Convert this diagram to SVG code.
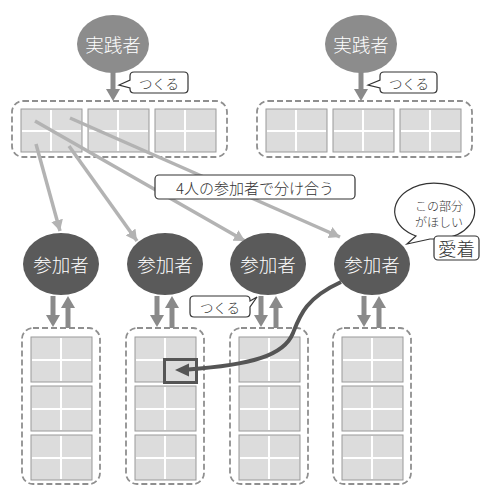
<svg xmlns="http://www.w3.org/2000/svg" width="483" height="487" viewBox="0 0 483 487">
  <style>
    .jp { font-family: "Noto Sans CJK JP", "Noto Sans", sans-serif; font-weight: 300; }
    .prac { fill: #8c8c8c; }
    .part { fill: #5a5a5a; }
    .nodeText { fill: #ffffff; font-size: 18.5px; text-anchor: middle; dominant-baseline: central; }
    .dash { fill: none; stroke: #8f8f8f; stroke-width: 1.8; stroke-dasharray: 6 3; }
    .cell { fill: #dcdcdc; stroke: #9a9a9a; stroke-width: 1; }
    .div { stroke: #ffffff; stroke-width: 2; }
    .flow { stroke: #8a8a8a; stroke-width: 5; fill: none; }
    .flowHead { fill: #8a8a8a; }
    .share { stroke: #b3b3b3; stroke-width: 3.5; fill: none; marker-end: url(#lightHead); }
    .callout { fill: #ffffff; stroke: #333333; stroke-width: 1.2; }
    .label { fill: #333333; text-anchor: middle; dominant-baseline: central; }
  </style>
  <defs>
    <marker id="lightHead" markerUnits="userSpaceOnUse" markerWidth="14" markerHeight="14" refX="11" refY="6" orient="auto">
      <path d="M0,0 L11,6 L0,12 Z" fill="#b3b3b3"/>
    </marker>
    <!-- 2x2 block of cells -->
    <g id="block">
      <rect class="cell" x="0" y="0" width="61" height="43"/>
      <line class="div" x1="30" y1="1" x2="30" y2="42"/>
      <line class="div" x1="1" y1="22" x2="60" y2="22"/>
    </g>
    <g id="blockTall">
      <rect class="cell" x="0" y="0" width="61" height="45"/>
      <line class="div" x1="30" y1="1" x2="30" y2="44"/>
      <line class="div" x1="1" y1="23" x2="60" y2="23"/>
    </g>
  </defs>

  <!-- top shared boards -->
  <g id="boardTopLeft">
    <rect class="dash" x="12" y="101" width="215" height="56" rx="11"/>
    <use href="#block" x="21" y="109"/>
    <use href="#block" x="88" y="109"/>
    <use href="#block" x="155" y="109"/>
  </g>
  <g id="boardTopRight">
    <rect class="dash" x="257" y="101" width="215" height="56" rx="11"/>
    <use href="#block" x="266" y="109"/>
    <use href="#block" x="333" y="109"/>
    <use href="#block" x="400" y="109"/>
  </g>

  <!-- participant boards -->
  <g id="board1">
    <rect class="dash" x="22" y="328" width="78" height="156" rx="11"/>
    <use href="#blockTall" x="31" y="337"/>
    <use href="#blockTall" x="31" y="386"/>
    <use href="#blockTall" x="31" y="435"/>
  </g>
  <g id="board2">
    <rect class="dash" x="126" y="328" width="78" height="156" rx="11"/>
    <use href="#blockTall" x="135" y="337"/>
    <use href="#blockTall" x="135" y="386"/>
    <use href="#blockTall" x="135" y="435"/>
    <rect x="164.5" y="359.5" width="32" height="23" fill="none" stroke="#555555" stroke-width="3"/>
  </g>
  <g id="board3">
    <rect class="dash" x="230" y="328" width="78" height="156" rx="11"/>
    <use href="#blockTall" x="239" y="337"/>
    <use href="#blockTall" x="239" y="386"/>
    <use href="#blockTall" x="239" y="435"/>
  </g>
  <g id="board4">
    <rect class="dash" x="333" y="328" width="78" height="156" rx="11"/>
    <use href="#blockTall" x="342" y="337"/>
    <use href="#blockTall" x="342" y="386"/>
    <use href="#blockTall" x="342" y="435"/>
  </g>

  <!-- connectors -->
  <g id="connectors">
    <!-- practitioners build their boards -->
    <line class="flow" x1="113" y1="72" x2="113" y2="90"/>
    <polygon class="flowHead" points="106,89 120,89 113,101"/>
    <line class="flow" x1="361" y1="72" x2="361" y2="90"/>
    <polygon class="flowHead" points="354,89 368,89 361,101"/>

    <!-- sharing lines -->
    <line class="share" x1="36" y1="144" x2="60" y2="231"/>
    <line class="share" x1="69" y1="146" x2="137" y2="241"/>
    <line class="share" x1="35" y1="121" x2="245" y2="241"/>
    <line class="share" x1="70" y1="118" x2="340" y2="237"/>

    <!-- participant up/down pairs -->
    <g>
      <line class="flow" x1="53" y1="296" x2="53" y2="316"/>
      <polygon class="flowHead" points="46,315 60,315 53,327"/>
      <line class="flow" x1="68" y1="307" x2="68" y2="328"/>
      <polygon class="flowHead" points="61,308 75,308 68,296"/>
    </g>
    <g>
      <line class="flow" x1="157" y1="296" x2="157" y2="316"/>
      <polygon class="flowHead" points="150,315 164,315 157,327"/>
      <line class="flow" x1="172" y1="307" x2="172" y2="328"/>
      <polygon class="flowHead" points="165,308 179,308 172,296"/>
    </g>
    <g>
      <line class="flow" x1="261" y1="296" x2="261" y2="316"/>
      <polygon class="flowHead" points="254,315 268,315 261,327"/>
      <line class="flow" x1="276" y1="307" x2="276" y2="328"/>
      <polygon class="flowHead" points="269,308 283,308 276,296"/>
    </g>
    <g>
      <line class="flow" x1="364" y1="296" x2="364" y2="316"/>
      <polygon class="flowHead" points="357,315 371,315 364,327"/>
      <line class="flow" x1="379" y1="307" x2="379" y2="328"/>
      <polygon class="flowHead" points="372,308 386,308 379,296"/>
    </g>

    <!-- taking a piece from another board -->
    <path d="M341,282 C306,298 300,315 293,333 C284,356 250,365 188,369.5" fill="none" stroke="#555555" stroke-width="4"/>
    <polygon points="175,370 189,363.5 189,376.5" fill="#555555"/>
  </g>

  <!-- practitioners -->
  <g id="practitioner1">
    <ellipse class="prac" cx="113" cy="44" rx="36" ry="29"/>
    <text class="jp nodeText" x="113" y="44">実践者</text>
  </g>
  <g id="practitioner2">
    <ellipse class="prac" cx="361" cy="44" rx="36" ry="29"/>
    <text class="jp nodeText" x="361" y="44">実践者</text>
  </g>

  <!-- participants -->
  <g id="participant1">
    <ellipse class="part" cx="61" cy="264" rx="38" ry="31"/>
    <text class="jp nodeText" x="61" y="264">参加者</text>
  </g>
  <g id="participant2">
    <ellipse class="part" cx="165" cy="264" rx="38" ry="31"/>
    <text class="jp nodeText" x="165" y="264">参加者</text>
  </g>
  <g id="participant3">
    <ellipse class="part" cx="268" cy="264" rx="38" ry="31"/>
    <text class="jp nodeText" x="268" y="264">参加者</text>
  </g>
  <g id="participant4">
    <ellipse class="part" cx="372" cy="264" rx="38" ry="31"/>
    <text class="jp nodeText" x="372" y="264">参加者</text>
  </g>

  <!-- callouts -->
  <g id="calloutMake1">
    <path class="callout" d="M134,72 H184 Q188,72 188,76 V89 Q188,93 184,93 H134 Q130,93 130,89 V88 L119,85 L130,80 V76 Q130,72 134,72 Z"/>
    <text class="jp label" x="159" y="83" font-size="13.5">つくる</text>
  </g>
  <g id="calloutMake2">
    <path class="callout" d="M384,72 H433 Q437,72 437,76 V89 Q437,93 433,93 H384 Q380,93 380,89 V88 L368,85 L380,80 V76 Q380,72 384,72 Z"/>
    <text class="jp label" x="409" y="83" font-size="13.5">つくる</text>
  </g>
  <g id="calloutShare">
    <rect class="callout" x="155" y="175" width="200" height="24" rx="4"/>
    <text class="jp label" x="255" y="187" font-size="15">4人の参加者で分け合う</text>
  </g>
  <g id="calloutMake3">
    <path class="callout" d="M194,296 H246 Q250,296 250,300 V301 L257,297 L250,307 V313 Q250,317 246,317 H194 Q190,317 190,313 V300 Q190,296 194,296 Z"/>
    <text class="jp label" x="220" y="307" font-size="13.5">つくる</text>
  </g>
  <g id="bubbleWant">
    <path class="callout" d="M416,236 A40,28 0 1 1 440,239 L430,239 L407,244 Z"/>
    <text class="jp label" x="439" y="205" font-size="12">この部分</text>
    <text class="jp label" x="439" y="221" font-size="12">がほしい</text>
  </g>
  <g id="calloutAttachment">
    <rect class="callout" x="434" y="236" width="45" height="24" rx="4"/>
    <text class="jp label" x="456.5" y="248" font-size="18.5" fill="#222222">愛着</text>
  </g>
</svg>
